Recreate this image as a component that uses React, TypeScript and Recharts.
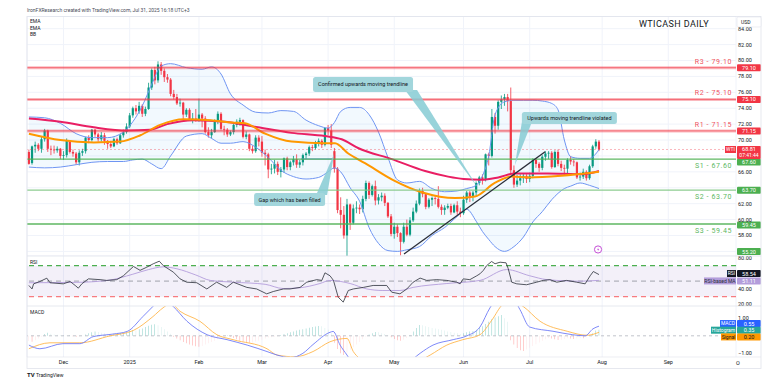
import React from 'react';
import {
  ComposedChart,
  Bar,
  Line,
  Area,
  XAxis,
  YAxis,
  CartesianGrid,
  ReferenceLine,
  ReferenceArea,
  ReferenceDot,
  Cell,
} from 'recharts';

const W = 781;
const LEFT = 27;
const AXIS_W = 45;
const FONT = 'Roboto, "DejaVu Sans", sans-serif';
const UP = '#089981';
const DOWN = '#f23645';
const GRID = '#f0f3fa';
const TEXT = '#131722';

// bar index 0 = 15 Nov 2024, one per trading day
const X_DOMAIN: [number, number] = [-0.6, 224.5];
const MONTH_TICKS = [11, 32, 54, 74, 95, 116, 138, 159, 182, 203];
const MONTH_LABELS = ['Dec', '2025', 'Feb', 'Mar', 'Apr', 'May', 'Jun', 'Jul', 'Aug', 'Sep'];

const PRICE_DOMAIN: [number, number] = [55.42, 85.53];
const PRICE_TICKS = [56, 58, 60, 62, 64, 66, 68, 70, 72, 74, 76, 78, 80, 82, 84];
const PRICE_TICKS_HIDDEN = [56, 64, 68];

// daily candles [open, high, low, close]
const CANDLES: number[][] = [
  [68.5, 68.8, 66.9, 67.0], [67.1, 69.3, 66.9, 69.2], [69.2, 69.8, 68.4, 69.4], [69.4, 69.6, 68.6, 68.9],
  [68.9, 70.4, 68.4, 70.1], [70.1, 71.4, 69.8, 71.2], [71.2, 71.3, 68.5, 68.9], [68.9, 69.3, 68.1, 68.8],
  [68.8, 69.3, 68.3, 68.7], [68.7, 69.2, 68.4, 68.9], [68.9, 69.0, 67.6, 68.0], [68.0, 68.6, 67.5, 68.1],
  [68.1, 70.2, 67.8, 69.9], [69.9, 70.0, 68.3, 68.5], [68.5, 68.8, 67.9, 68.3], [68.3, 68.5, 66.9, 67.2],
  [67.2, 68.7, 66.8, 68.4], [68.4, 68.9, 68.0, 68.6], [68.6, 70.4, 68.3, 70.3], [70.3, 70.6, 69.6, 70.0],
  [70.0, 71.4, 69.8, 71.3], [71.3, 71.4, 70.4, 70.7], [70.7, 70.9, 69.8, 70.1], [70.1, 71.0, 69.8, 70.6],
  [70.6, 70.9, 69.4, 69.9], [69.9, 70.0, 68.9, 69.5], [69.5, 69.9, 69.0, 69.2], [69.2, 70.3, 69.1, 70.1],
  [70.1, 70.3, 69.4, 69.6], [69.6, 70.8, 69.5, 70.6], [70.6, 71.3, 70.3, 71.0], [71.0, 72.1, 70.8, 71.7],
  [71.7, 73.4, 71.5, 73.1], [73.1, 74.2, 72.8, 74.0], [74.0, 74.4, 73.2, 73.6], [73.6, 74.8, 73.3, 74.3],
  [74.3, 74.5, 72.9, 73.3], [73.3, 74.2, 73.0, 73.9], [73.9, 77.2, 73.8, 76.6], [76.6, 79.0, 76.3, 78.8],
  [78.8, 79.2, 77.0, 77.5], [77.5, 79.9, 77.2, 79.5], [79.5, 79.8, 78.2, 78.7], [78.7, 79.0, 77.3, 77.9],
  [77.9, 78.3, 77.2, 77.6], [77.6, 77.8, 75.5, 75.8], [75.8, 76.3, 75.1, 75.4], [75.4, 75.8, 74.4, 74.6],
  [74.6, 75.2, 74.2, 74.7], [74.7, 74.8, 72.6, 73.2], [73.2, 74.0, 72.9, 73.8], [73.8, 74.0, 72.4, 72.6],
  [72.6, 73.4, 72.1, 72.7], [72.7, 73.9, 72.3, 72.5], [72.5, 75.2, 72.3, 73.2], [73.2, 73.4, 71.6, 72.7],
  [72.7, 73.0, 70.8, 71.0], [71.0, 71.6, 70.3, 70.6], [70.6, 71.4, 70.2, 71.0], [71.0, 72.6, 70.9, 72.3],
  [72.3, 73.6, 72.0, 73.3], [73.3, 73.5, 71.2, 71.4], [71.4, 71.8, 70.6, 71.3], [71.3, 71.5, 70.4, 70.7],
  [70.7, 71.2, 70.5, 71.0], [71.0, 72.1, 70.7, 71.9], [71.9, 72.6, 71.6, 72.3], [72.3, 72.8, 71.8, 72.5],
  [72.5, 72.6, 70.2, 70.4], [70.4, 71.1, 70.1, 70.7], [70.7, 70.8, 68.6, 68.9], [68.9, 69.3, 68.3, 68.6],
  [68.6, 70.6, 68.4, 70.3], [70.3, 70.6, 69.2, 69.8], [69.8, 70.5, 67.9, 68.4], [68.4, 68.8, 66.8, 68.2],
  [68.2, 68.4, 65.2, 66.3], [66.3, 67.0, 65.7, 66.4], [66.4, 67.5, 65.8, 67.0], [67.0, 67.3, 65.6, 66.0],
  [66.0, 66.6, 65.3, 66.3], [66.3, 67.8, 65.9, 67.7], [67.7, 67.9, 66.2, 66.6], [66.6, 67.4, 66.2, 67.2],
  [67.2, 68.0, 66.8, 67.6], [67.6, 68.2, 66.5, 66.9], [66.9, 67.5, 66.5, 67.2], [67.2, 68.3, 66.8, 68.1],
  [68.1, 68.5, 67.6, 68.3], [68.3, 69.3, 68.0, 69.1], [69.1, 69.4, 68.6, 69.0], [69.0, 69.9, 68.8, 69.7],
  [69.7, 70.2, 69.2, 69.9], [69.9, 70.1, 69.0, 69.4], [69.4, 71.6, 69.2, 71.5], [71.5, 71.9, 70.6, 71.2],
  [71.2, 72.0, 69.0, 69.4], [68.6, 69.0, 65.9, 66.4], [66.4, 66.6, 60.8, 61.2], [61.2, 62.8, 58.9, 60.6],
  [60.6, 61.7, 57.6, 58.0], [58.0, 62.6, 55.2, 61.9], [61.9, 62.0, 58.7, 59.6], [59.6, 61.9, 59.4, 61.4],
  [61.4, 62.3, 60.8, 61.5], [61.5, 61.9, 60.7, 61.3], [61.3, 63.0, 60.9, 62.6], [62.6, 64.9, 62.3, 64.6],
  [64.6, 64.8, 62.6, 63.1], [63.1, 64.4, 62.9, 64.2], [64.2, 64.9, 61.8, 62.4], [62.4, 63.2, 61.9, 62.8],
  [62.8, 63.4, 62.3, 63.0], [63.0, 63.3, 61.7, 62.1], [62.1, 62.2, 60.2, 60.4], [60.4, 60.7, 57.9, 58.2],
  [58.2, 59.6, 57.6, 59.1], [59.1, 59.4, 57.8, 58.3], [58.3, 58.4, 55.5, 57.2], [57.2, 59.6, 57.0, 59.1],
  [59.1, 60.0, 57.9, 58.1], [58.1, 60.3, 57.9, 59.9], [59.9, 61.5, 59.7, 61.0], [61.0, 62.4, 60.8, 62.0],
  [62.0, 63.9, 61.8, 63.6], [63.6, 64.0, 62.8, 63.2], [63.2, 63.3, 61.3, 61.6], [61.6, 62.7, 61.4, 62.5],
  [62.5, 62.9, 61.7, 62.7], [62.7, 63.0, 61.9, 62.6], [62.6, 64.2, 61.4, 61.6], [61.6, 61.9, 60.6, 61.2],
  [61.2, 61.8, 60.6, 61.5], [61.5, 62.0, 61.3, 61.7], [61.7, 62.0, 60.6, 60.9], [60.9, 62.0, 60.8, 61.8],
  [61.8, 62.3, 60.6, 61.0], [61.0, 61.5, 60.3, 60.8], [60.8, 63.0, 60.6, 62.5], [62.5, 63.6, 62.1, 63.4],
  [63.4, 63.6, 62.2, 62.9], [62.9, 63.6, 62.3, 63.4], [63.4, 64.8, 63.0, 64.6], [64.6, 65.5, 64.3, 65.3],
  [65.3, 65.7, 64.4, 65.0], [65.0, 68.3, 64.8, 68.2], [68.2, 68.4, 66.8, 68.0], [68.0, 73.9, 67.8, 72.9],
  [72.9, 73.4, 70.8, 71.8], [71.8, 75.0, 71.3, 74.8], [74.8, 75.6, 73.9, 75.1], [75.1, 75.8, 74.3, 75.4],
  [75.4, 75.8, 73.6, 74.9], [74.9, 76.6, 65.8, 66.2], [66.2, 66.8, 64.0, 64.4], [64.4, 65.6, 64.1, 64.9],
  [64.9, 65.7, 64.3, 65.2], [65.2, 65.8, 64.6, 65.5], [65.5, 65.7, 64.6, 65.1], [65.1, 65.9, 64.7, 65.5],
  [65.5, 67.7, 65.2, 67.5], [67.5, 67.7, 66.5, 67.0], [67.0, 67.2, 66.0, 66.5], [66.5, 68.1, 66.2, 67.9],
  [67.9, 68.6, 67.4, 68.3], [68.3, 68.6, 67.6, 68.4], [68.4, 68.6, 66.4, 66.6], [66.6, 68.7, 66.5, 68.5],
  [68.5, 68.8, 66.7, 67.0], [67.0, 67.4, 66.1, 66.5], [66.5, 66.9, 65.6, 66.4], [66.4, 67.7, 65.7, 67.5],
  [67.5, 68.0, 66.9, 67.3], [67.3, 67.6, 66.7, 67.2], [67.2, 67.3, 65.1, 65.3], [65.3, 65.9, 64.9, 65.4],
  [65.4, 66.4, 65.1, 66.0], [66.0, 66.2, 64.9, 65.2], [65.2, 66.9, 65.0, 66.7], [66.7, 69.4, 66.5, 69.2],
  [69.2, 70.1, 68.9, 69.8], [69.8, 70.0, 68.6, 68.8],
];

// [bar index, value]
const EMA_FAST = [
  [0, 70.8], [10, 70.0], [20.6, 69.7], [29, 69.8], [35.4, 70.6], [41.7, 71.9], [49.2, 72.6], [57.6, 72.5],
  [64.5, 72.2], [68.6, 72.1], [75, 70.8], [83.4, 69.8], [94, 69.6], [97.2, 69.6], [101.4, 68.3], [106.7, 67.1],
  [115.5, 65.0], [125, 63.4], [135.3, 62.7], [141.6, 62.9], [147.9, 64.6], [153.2, 65.4], [158.6, 65.3],
  [169, 65.5], [181, 66.0],
];
const EMA_SLOW = [
  [0, 72.7], [10, 72.3], [20.6, 71.6], [31.2, 71.2], [38.5, 71.3], [43.9, 72.0], [52.3, 72.5], [62.3, 72.3],
  [72.7, 71.6], [83.4, 70.9], [94, 70.5], [99.3, 70.1], [104.5, 69.0], [115.2, 67.6], [125.8, 66.1],
  [133.1, 65.4], [138, 65.1], [143.8, 65.0], [149, 65.3], [154.3, 65.8], [164.8, 65.8], [175.5, 65.7], [181, 66.1],
];

const BB_IDX = [0, 5, 10, 15, 20, 25, 30, 33, 36, 39, 42, 45, 50, 55, 58, 61, 64, 68, 72, 76, 80, 84, 88, 92, 95,
  97, 99, 102, 105, 108, 111, 114, 117, 120, 124, 128, 132, 136, 139, 142, 144, 146, 148, 151, 154, 157, 160,
  163, 166, 168, 170, 172, 175, 178, 181];
const BB_UPPER = [72.9, 72.8, 72.1, 70.8, 70.3, 70.3, 71.0, 72.3, 74.3, 77.0, 79.3, 79.6, 79.1, 78.9, 79.2, 78.3,
  75.8, 74.4, 73.5, 73.4, 73.7, 73.6, 72.5, 71.8, 71.5, 72.2, 73.6, 74.1, 74.1, 73.2, 71.0, 67.8, 65.0, 64.6,
  64.8, 63.9, 63.5, 63.6, 63.9, 64.3, 65.5, 68.0, 73.2, 74.8, 75.0, 75.0, 75.0, 74.9, 74.6, 73.8, 70.0, 67.9,
  67.7, 67.7, 68.8];
const BB_LOWER = [66.6, 66.5, 66.6, 66.9, 67.2, 67.3, 67.3, 67.5, 67.6, 67.0, 66.4, 68.0, 70.5, 70.8, 70.2, 69.6,
  69.6, 69.8, 69.1, 67.8, 66.2, 65.4, 65.1, 65.3, 66.0, 66.5, 66.0, 64.0, 62.3, 59.0, 57.0, 56.1, 56.0, 56.2,
  56.6, 58.0, 59.0, 60.4, 61.3, 59.8, 58.5, 57.5, 56.6, 56.0, 56.6, 57.8, 59.7, 61.0, 62.5, 63.3, 63.9, 64.2,
  64.6, 64.3, 63.9];

const LEVELS = [
  { name: 'R3', value: 79.1, kind: 'r', dy: 0 },
  { name: 'R2', value: 75.1, kind: 'r', dy: 0 },
  { name: 'R1', value: 71.15, kind: 'r', dy: 0 },
  { name: 'S1', value: 67.6, kind: 's', dy: 3 },
  { name: 'S2', value: 63.7, kind: 's2', dy: 0 },
  { name: 'S3', value: 59.45, kind: 's', dy: 1 },
];
const LAST_PRICE = 68.81;
const LOW_MARK = 55.2;
const TRENDLINE = [{ x: 119.1, y: 55.67 }, { x: 163.9, y: 68.53 }];
const GAP_LINE = [{ x: 86.5, y: 67.62 }, { x: 96.5, y: 67.62 }];

const CALLOUTS = [
  { text: 'Confirmed upwards moving trendline', tip: [142.6, 63.97], box: [-165, -111, 100, 15], base: [-73, -61, -98] },
  { text: 'Gap which has been filled', tip: [96.9, 68.24], box: [-80, 39, 71, 13], base: [-18, -7, 41] },
  { text: 'Upwards moving trendline violated', tip: [154.3, 66.86], box: [7, -53, 95, 12], base: [7, 17, -43] },
];

const RSI = [
  [0, 44.5], [1, 40], [1.5, 46.6], [3.5, 49.6], [5.7, 53.9], [6.7, 48], [10.9, 46.6], [13.1, 49.6], [14.7, 44.5],
  [15.7, 41], [16.8, 46.6], [18.9, 53], [22.6, 52], [24.7, 51], [27.9, 52], [30, 57], [33.2, 69], [35.3, 64],
  [37.4, 68], [39.5, 72.5], [41.4, 75.8], [42.7, 70], [45.9, 61.6], [48, 53], [50.1, 48.7], [53.3, 48], [56.5, 40],
  [59.6, 48.7], [62.8, 42], [64.9, 48.7], [69.2, 42], [72.3, 40], [75.5, 33.7], [77.6, 36.7], [80.8, 40], [82.9, 40],
  [86.1, 42], [88.2, 48.7], [91.4, 52], [93, 51], [94, 60.8], [95.6, 57], [96.7, 51], [98.2, 29.4], [99.8, 23],
  [101.4, 38], [103, 40], [106.2, 42], [109.3, 44.5], [113.6, 44.5], [115.2, 35.8], [117.8, 33.7], [120, 40],
  [122, 48.7], [124.2, 54], [126.3, 51], [129.5, 52], [132.7, 51], [135.8, 48.7], [136.9, 46.6], [137.9, 53],
  [140, 52], [142.2, 57], [143.2, 59.5], [144.3, 64], [145.3, 70], [146.9, 75.4], [148, 72.5], [149.6, 74.5],
  [151.5, 73.7], [152.2, 66], [153.3, 48.7], [154.9, 46.6], [158, 45.4], [161.2, 48.7], [163.3, 51], [165.4, 52],
  [167.6, 48.7], [170.7, 51], [173.9, 48.7], [176.6, 46.6], [178.2, 57], [179.2, 62.5], [181, 58.54],
];
const RSI_MA = [
  [0, 48], [15, 48.5], [25, 51], [33, 59], [38, 65], [42.7, 68.5], [47, 66], [53, 58], [57.6, 51], [65, 48.7],
  [75, 46], [80.8, 40.5], [86, 41.5], [92.4, 47], [95.6, 51], [102, 47], [107.3, 40], [112.4, 38], [117.8, 38],
  [122, 42], [132.7, 47], [143.2, 51], [151.7, 65], [159, 57], [164.5, 52], [175, 50], [181, 51.11],
];

const MACD = [
  [0, -0.53], [3.5, -0.74], [10.8, -0.45], [16.2, -0.45], [20.4, -0.05], [26.7, 0.1], [31.2, 0.25], [36.2, 1.1],
  [39.4, 1.68], [41.6, 2.1], [43.5, 2.0], [45.8, 1.68], [50.2, 0.83], [56.6, 0.06], [62.9, -0.22], [69.3, -0.53],
  [75.6, -0.9], [78.8, -1.1], [82.9, -1.25], [87, -1.0], [90.2, -0.5], [95.6, 0.2], [96.6, 0.25], [98.8, -0.53],
  [101, -1.1], [104, -1.9], [110, -2.1], [116, -1.9], [120, -1.6], [124.2, -1.0], [128.3, -0.53], [134.7, -0.22],
  [139.1, 0], [143.2, 0.5], [146.4, 1.6], [150, 2.3], [153, 2.3], [155.9, 1.5], [159, 0.5], [166.4, 0.26],
  [172.7, 0.06], [176.6, 0], [179.1, 0.4], [181, 0.55],
];
const SIGNAL = [
  [0, -0.74], [6.7, -0.4], [16.2, -0.4], [25.8, 0], [33.1, 0.3], [39.4, 1.1], [42.6, 1.6], [45, 1.85], [48, 1.4],
  [54.3, 0.83], [59.7, 0.06], [64.8, -0.22], [75.6, -0.74], [78.8, -1.1], [84.5, -1.2], [90.2, -0.9], [95.6, -0.34],
  [101, -0.15], [103, -0.9], [105, -1.3], [110, -1.8], [116, -1.95], [122, -1.6], [127.4, -1.1], [132.7, -0.53],
  [137.8, -0.22], [143.2, 0.06], [147, 0.9], [150.5, 1.8], [153.5, 2.0], [156.9, 1.68], [162.3, 0.83],
  [170.9, 0.26], [177.2, 0.03], [181, 0.2],
];
// one histogram value per candle
const HIST = [
  -0.3, -0.34, -0.25, -0.15, -0.05, 0.1, 0.18, 0.12, 0.08, 0.06, 0.05, 0.04,
  0.02, 0.03, -0.02, -0.05, -0.04, 0.0, 0.08, 0.14, 0.2, 0.25, 0.22, 0.18,
  0.15, 0.12, 0.1, 0.12, 0.15, 0.16, 0.17, 0.2, 0.28, 0.33, 0.3,
  0.38, 0.42, 0.5, 0.58, 0.63, 0.66, 0.6, 0.5, 0.38, 0.25, 0.12,
  -0.05, -0.15, -0.25, -0.35, -0.42, -0.5, -0.55, -0.6, -0.62, -0.58, -0.5,
  -0.42, -0.35, -0.28, -0.2, -0.12, -0.05, 0.03,
  -0.05, -0.12, -0.2, -0.28, -0.33, -0.38, -0.4, -0.38, -0.32, -0.28, -0.22, -0.15, -0.1,
  -0.08, -0.05, -0.02,
  0.05, 0.1, 0.15, 0.2, 0.25, 0.3, 0.34, 0.38, 0.42, 0.46, 0.5, 0.53, 0.56, 0.55, 0.45,
  0.35, 0.15, -0.4, -0.75, -1.0, -1.1, -0.95, -0.8, -0.65, -0.5, -0.35, -0.2,
  -0.05, 0.08, 0.15, 0.22, 0.2, 0.15, 0.1, 0.05,
  -0.08, -0.18, -0.25, -0.28, -0.22, -0.12, 0.05, 0.25, 0.45, 0.62,
  0.6, 0.55, 0.5, 0.45, 0.42, 0.38, 0.35, 0.3, 0.25, 0.22, 0.18, 0.14, 0.1,
  0.15, 0.2, 0.24, 0.28, 0.35, 0.45, 0.55, 0.68, 0.8, 0.95, 1.05, 1.12, 1.19, 1.0, 0.8,
  -0.25, -0.5, -0.7, -0.82, -0.87, -0.78, -0.68, -0.58, -0.48, -0.38, -0.28, -0.2, -0.12,
  -0.15, -0.2, -0.24, -0.22, -0.18, -0.14, -0.16, -0.18, -0.15, -0.12, -0.14, -0.08,
  0.05, 0.15, 0.3, 0.35,
];

const candleData = CANDLES.map(([o, h, l, c], i) => ({ i, o, h, l, c }));
const pairs = (arr: number[][]) => arr.map(([i, v]) => ({ i, v }));
const bbData = BB_IDX.map((i, k) => ({ i, upper: BB_UPPER[k], lower: BB_LOWER[k], band: [BB_LOWER[k], BB_UPPER[k]] }));
const histData = HIST.map((h, i) => ({ i, h }));

const histColor = (k: number) => {
  const h = HIST[k];
  const prev = k > 0 ? HIST[k - 1] : h;
  if (h >= 0) return h >= prev ? '#26a69a' : '#b2dfdb';
  return h < prev ? '#ff5252' : '#ffcdd2';
};

const px = (i: number) => LEFT + ((i - X_DOMAIN[0]) / (X_DOMAIN[1] - X_DOMAIN[0])) * (W - LEFT - AXIS_W);

const Candle = (props: any) => {
  const { x, y, width, height, payload } = props;
  if (x == null || y == null || !payload) return null;
  const { o, h, l, c } = payload;
  const top = Math.min(y, y + height);
  const bot = Math.max(y, y + height);
  const span = h - l || 1;
  const toY = (v: number) => top + ((h - v) / span) * (bot - top);
  const cx = x + width / 2;
  const color = c >= o ? UP : DOWN;
  const bTop = toY(Math.max(o, c));
  const bBot = toY(Math.min(o, c));
  return (
    <g>
      <line x1={cx} x2={cx} y1={top} y2={bot} stroke={color} strokeWidth={0.8} />
      <rect x={cx - 1.1} y={bTop} width={2.2} height={Math.max(0.7, bBot - bTop)} fill={color} />
    </g>
  );
};

type BadgeCfg = { text: string; bg: string; color?: string; tag?: string; tagW?: number; tagColor?: string; sub?: string; dy?: number; maxY?: number };

const Badge = ({ xr, y, cfg }: { xr: number; y: number; cfg: BadgeCfg }) => {
  const h = cfg.sub ? 13 : 7;
  const color = cfg.color || '#fff';
  return (
    <g fontFamily={FONT}>
      {cfg.tag && (
        <g>
          <rect x={xr - (cfg.tagW || 12)} y={y - 3.5} width={cfg.tagW || 12} height={7} fill={cfg.bg} />
          <text x={xr - (cfg.tagW || 12) / 2} y={y + 1.8} textAnchor="middle" fontSize={5} fill={cfg.tagColor || color}>
            {cfg.tag}
          </text>
        </g>
      )}
      <rect x={xr + 1} y={y - 3.5} width={24} height={h} rx={1} fill={cfg.bg} />
      <text x={xr + 13} y={y + 2} textAnchor="middle" fontSize={5.5} fill={color}>
        {cfg.text}
      </text>
      {cfg.sub && (
        <text x={xr + 13} y={y + 7.8} textAnchor="middle" fontSize={5} fill={color}>
          {cfg.sub}
        </text>
      )}
    </g>
  );
};

const badgeLabel = (cfg: BadgeCfg) => (props: any) => {
  const vb = props && props.viewBox;
  if (!vb || vb.x == null) return null;
  let y = vb.y + (cfg.dy || 0);
  if (cfg.maxY != null) y = Math.min(y, cfg.maxY);
  return <Badge xr={vb.x + vb.width} y={y} cfg={cfg} />;
};

const levelColor = (kind: string) => (kind === 'r' ? '#f23645' : kind === 's2' ? '#81c784' : '#4caf50');
const levelText = (kind: string) => (kind === 'r' ? '#ef5361' : '#5cb85f');

const levelLabel = (name: string, value: number, kind: string) => (props: any) => {
  const vb = props && props.viewBox;
  if (!vb || vb.x == null) return null;
  const above = kind === 'r';
  return (
    <text
      x={vb.x + vb.width - 4}
      y={above ? vb.y - 4 : vb.y + 9}
      textAnchor="end"
      fontSize={7}
      letterSpacing={0.6}
      fontFamily={FONT}
      fill={levelText(kind)}
    >
      {`${name} - ${value.toFixed(2)}`}
    </text>
  );
};

const calloutShape = (c: (typeof CALLOUTS)[number]) => (props: any) => {
  const { cx, cy } = props;
  if (cx == null || cy == null) return null;
  const [bx, by, bw, bh] = c.box;
  const [w1, w2, wy] = c.base;
  return (
    <g fontFamily={FONT}>
      <polygon points={`${cx + w1},${cy + wy} ${cx + w2},${cy + wy} ${cx},${cy}`} fill="#86cbd3" fillOpacity={0.85} />
      <rect x={cx + bx} y={cy + by} width={bw} height={bh} rx={2.5} fill="#a2d6dc" />
      <text x={cx + bx + bw / 2} y={cy + by + bh / 2 + 2} textAnchor="middle" fontSize={5.5} fill={TEXT}>
        {c.text}
      </text>
    </g>
  );
};

const iconShape = (props: any) => {
  const { cx, cy } = props;
  if (cx == null) return null;
  return (
    <g>
      <circle cx={cx} cy={cy} r={3.6} fill="#fff" stroke="#c44fd6" strokeWidth={1} />
      <path d={`M${cx + 0.6},${cy - 2.2} L${cx - 1},${cy + 0.3} L${cx + 0.3},${cy + 0.3} L${cx - 0.5},${cy + 2.2} L${cx + 1.2},${cy - 0.5} L${cx},${cy - 0.5} Z`} fill="#c44fd6" />
    </g>
  );
};

const axisTick = (hidden: number[], fmt: (v: number) => string) => (props: any) => {
  const { x, y, payload } = props;
  if (hidden.includes(payload.value)) return null;
  return (
    <text x={x} y={y + 2} fontSize={5.5} fill={TEXT} fontFamily={FONT}>
      {fmt(payload.value)}
    </text>
  );
};

const fmt2 = (v: number) => (v < 0 ? '\u2212' + Math.abs(v).toFixed(2) : v.toFixed(2));

const xAxisHidden = (
  <XAxis type="number" dataKey="i" domain={X_DOMAIN} ticks={MONTH_TICKS} hide allowDataOverflow />
);

export default function App() {
  return (
    <div style={{ position: 'fixed', left: 0, top: 0, width: W, height: 382, background: '#fff', overflow: 'hidden' }}>
      {/* price pane */}
      <div style={{ position: 'absolute', left: 0, top: 0 }}>
        <ComposedChart width={W} height={256} data={candleData} margin={{ top: 16.5, right: 0, bottom: 0, left: LEFT }}>
          <CartesianGrid stroke={GRID} />
          {xAxisHidden}
          <YAxis
            orientation="right"
            width={AXIS_W}
            domain={PRICE_DOMAIN}
            ticks={PRICE_TICKS}
            interval={0}
            allowDataOverflow
            axisLine={false}
            tickLine={false}
            tickSize={0}
            tickMargin={2}
            tick={axisTick(PRICE_TICKS_HIDDEN, fmt2)}
          />
          <Area data={bbData} dataKey="band" stroke="none" fill="#2196f3" fillOpacity={0.06} isAnimationActive={false} />
          <Line data={bbData} dataKey="upper" type="monotone" stroke="#6f95f2" strokeWidth={1} dot={false} activeDot={false} isAnimationActive={false} />
          <Line data={bbData} dataKey="lower" type="monotone" stroke="#6f95f2" strokeWidth={1} dot={false} activeDot={false} isAnimationActive={false} />
          <ReferenceLine segment={GAP_LINE} stroke="#5b8cf0" strokeWidth={1} />
          <Bar dataKey={(d: any) => [d.l, d.h]} barSize={2.2} shape={Candle} isAnimationActive={false} />
          <Line data={pairs(EMA_SLOW)} dataKey="v" type="monotone" stroke="#e91e63" strokeWidth={2} dot={false} activeDot={false} isAnimationActive={false} />
          <Line data={pairs(EMA_FAST)} dataKey="v" type="monotone" stroke="#ff9800" strokeWidth={2} dot={false} activeDot={false} isAnimationActive={false} />
          {LEVELS.map((lv) => (
            <ReferenceLine
              key={lv.name + 'g'}
              y={lv.value}
              stroke={levelColor(lv.kind)}
              strokeWidth={lv.kind === 'r' ? 3 : 1.4}
              strokeOpacity={lv.kind === 'r' ? 0.35 : 0.9}
              label={levelLabel(lv.name, lv.value, lv.kind)}
            />
          ))}
          {LEVELS.map((lv) => (
            <ReferenceLine
              key={lv.name + 'c'}
              y={lv.value}
              stroke={lv.kind === 'r' ? '#f23645' : 'none'}
              strokeWidth={0.8}
              strokeOpacity={0.75}
              label={badgeLabel({
                text: lv.value.toFixed(2),
                bg: lv.kind === 'r' ? '#f23645' : '#4caf50',
                dy: lv.dy,
              })}
            />
          ))}
          <ReferenceLine
            y={LAST_PRICE}
            stroke="#f23645"
            strokeOpacity={0.45}
            strokeDasharray="2 2"
            strokeWidth={0.8}
            label={badgeLabel({ text: LAST_PRICE.toFixed(2), sub: '07:41:44', bg: '#f23645', tag: 'WTI', tagW: 11 })}
          />
          <ReferenceLine
            y={LOW_MARK}
            stroke="none"
            ifOverflow="visible"
            label={badgeLabel({ text: LOW_MARK.toFixed(2), bg: '#4caf50', maxY: 251.5 })}
          />
          <ReferenceLine segment={TRENDLINE} stroke="#2a2e39" strokeWidth={1.3} />
          {CALLOUTS.map((c) => (
            <ReferenceDot key={c.text} x={c.tip[0]} y={c.tip[1]} r={0} shape={calloutShape(c)} />
          ))}
          <ReferenceDot x={180.7} y={56.24} r={0} shape={iconShape} />
        </ComposedChart>
      </div>

      {/* RSI pane */}
      <div style={{ position: 'absolute', left: 0, top: 256 }}>
        <ComposedChart width={W} height={50} data={pairs(RSI)} margin={{ top: 0, right: 0, bottom: 0, left: LEFT }}>
          <CartesianGrid stroke={GRID} horizontal={false} />
          {xAxisHidden}
          <YAxis
            orientation="right"
            width={AXIS_W}
            domain={[18, 82.5]}
            ticks={[20, 40, 60, 80]}
            interval={0}
            allowDataOverflow
            axisLine={false}
            tickLine={false}
            tickSize={0}
            tickMargin={2}
            tick={axisTick([60], fmt2)}
          />
          <ReferenceArea y1={30} y2={70} fill="#7e57c2" fillOpacity={0.09} stroke="none" />
          <ReferenceLine y={70} stroke="#4caf50" strokeDasharray="5 4" strokeWidth={1.2} />
          <ReferenceLine y={50} stroke="#9598a1" strokeOpacity={0.7} strokeDasharray="5 4" strokeWidth={1.2} />
          <ReferenceLine y={30} stroke="#f77c80" strokeDasharray="5 4" strokeWidth={1.2} />
          <Line data={pairs(RSI_MA)} dataKey="v" type="monotone" stroke="#b39ddb" strokeWidth={0.9} dot={false} activeDot={false} isAnimationActive={false} />
          <Line dataKey="v" type="linear" stroke="#2a2e39" strokeWidth={0.8} dot={false} activeDot={false} isAnimationActive={false} />
          <ReferenceLine y={58.54} stroke="none" label={badgeLabel({ text: '58.54', bg: '#131722', tag: 'RSI', tagW: 9, dy: -1 })} />
          <ReferenceLine
            y={51.11}
            stroke="none"
            label={badgeLabel({ text: '51.11', bg: '#b39ddb', tag: 'RSI-based MA', tagW: 32, tagColor: '#2a2e39', dy: 0.6 })}
          />
        </ComposedChart>
      </div>

      {/* MACD pane + time axis */}
      <div style={{ position: 'absolute', left: 0, top: 306 }}>
        <ComposedChart width={W} height={63} data={histData} margin={{ top: 0, right: 0, bottom: 0, left: LEFT }}>
          <CartesianGrid stroke={GRID} horizontal={false} />
          <XAxis
            type="number"
            dataKey="i"
            domain={X_DOMAIN}
            ticks={MONTH_TICKS}
            interval={0}
            allowDataOverflow
            height={12}
            axisLine={false}
            tickLine={false}
            tickSize={0}
            tickMargin={3}
            tick={{ fontSize: 5.5, fill: TEXT, fontFamily: FONT }}
            tickFormatter={(v: number) => MONTH_LABELS[MONTH_TICKS.indexOf(v)] || ''}
          />
          <YAxis
            orientation="right"
            width={AXIS_W}
            domain={[-1.211, 1.703]}
            ticks={[-1, 0, 1]}
            interval={0}
            allowDataOverflow
            axisLine={false}
            tickLine={false}
            tickSize={0}
            tickMargin={2}
            tick={axisTick([0], fmt2)}
          />
          <ReferenceLine y={0} stroke="#b2b5be" strokeDasharray="3 3" strokeWidth={0.8} />
          <Bar dataKey="h" barSize={2.4} isAnimationActive={false}>
            {histData.map((d, k) => (
              <Cell key={k} fill={histColor(k)} />
            ))}
          </Bar>
          <Line data={pairs(SIGNAL)} dataKey="v" type="monotone" stroke="#ffb74d" strokeWidth={0.9} dot={false} activeDot={false} isAnimationActive={false} />
          <Line data={pairs(MACD)} dataKey="v" type="monotone" stroke="#6f7cf7" strokeWidth={0.9} dot={false} activeDot={false} isAnimationActive={false} />
          <ReferenceLine y={0.55} stroke="none" label={badgeLabel({ text: '0.55', bg: '#2962ff', tag: 'MACD', tagW: 16, dy: -2.6 })} />
          <ReferenceLine y={0.35} stroke="none" label={badgeLabel({ text: '0.35', bg: '#26a69a', tag: 'Histogram', tagW: 25, dy: 0.5 })} />
          <ReferenceLine
            y={0.2}
            stroke="none"
            label={badgeLabel({ text: '0.20', bg: '#ff9800', color: TEXT, tag: 'Signal', tagW: 15, dy: 4.6 })}
          />
        </ComposedChart>
      </div>

      {/* frame, header and pane titles */}
      <svg width={W} height={382} style={{ position: 'absolute', left: 0, top: 0, pointerEvents: 'none' }} fontFamily={FONT}>
        <rect x={LEFT} y={16.5} width={734} height={352} fill="none" stroke="#e0e3eb" strokeWidth={0.8} />
        <line x1={LEFT} x2={761} y1={256} y2={256} stroke="#e0e3eb" strokeWidth={0.8} />
        <line x1={LEFT} x2={761} y1={306} y2={306} stroke="#e0e3eb" strokeWidth={0.8} />
        <line x1={LEFT} x2={761} y1={357} y2={357} stroke="#e0e3eb" strokeWidth={0.6} />
        <text x={LEFT} y={11.5} fontSize={5} fill="#4a4e59">
          IronFXResearch created with TradingView.com, Jul 31, 2025 16:18 UTC+3
        </text>
        <text x={30} y={23} fontSize={5} fill={TEXT}>EMA</text>
        <text x={30} y={29.5} fontSize={5} fill={TEXT}>EMA</text>
        <text x={30} y={36} fontSize={5} fill={TEXT}>BB</text>
        <text x={709} y={26.5} textAnchor="end" fontSize={9} letterSpacing={0.4} fill={TEXT}>
          WTICASH DAILY
        </text>
        <rect x={737} y={17} width={24} height={10} rx={1.5} fill="#fff" stroke="#e0e3eb" strokeWidth={0.6} />
        <text x={741} y={24} fontSize={5} fill={TEXT}>USD</text>
        <text x={30} y={263.5} fontSize={5} fill={TEXT}>RSI</text>
        <text x={30} y={314} fontSize={5} fill={TEXT}>MACD</text>
        <text x={px(225) - 1.5} y={364.5} fontSize={5.5} fill={TEXT}>O</text>
        <text x={LEFT} y={377} fontSize={6} fontWeight="bold" fill={TEXT}>TV</text>
        <text x={LEFT + 9} y={377} fontSize={5} fill={TEXT}>TradingView</text>
      </svg>
    </div>
  );
}
